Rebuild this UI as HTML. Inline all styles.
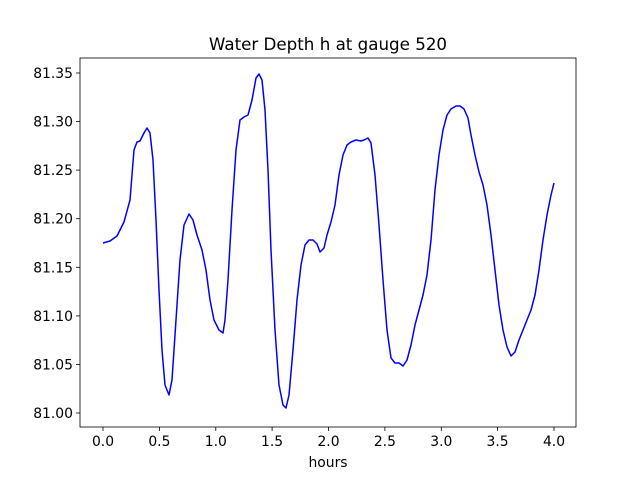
<!DOCTYPE html>
<html><head><meta charset="utf-8"><style>
html,body{margin:0;padding:0;background:#fff;}
svg{display:block;}
text{font-family:"DejaVu Sans","Liberation Sans",sans-serif;font-size:13.9px;fill:#000;}
</style></head><body>
<svg width="640" height="480" viewBox="0 0 640 480">
<rect x="0" y="0" width="640" height="480" fill="#fff"/>
<text x="328" y="50" text-anchor="middle" style="font-size:16.7px">Water Depth h at gauge 520</text>
<polyline fill="none" stroke="#0000ff" stroke-width="1.5" stroke-linejoin="round" points="103,243 110,241 117,236 124,222 130,200 134,150 137,142 140,141 144,133 147,128 150,133 153,160 156,220 159,290 162,350 165,385 169,395 172,380 176,320 180,260 184,225 189,214 193,220 197,235 202,250 206,270 210,300 214,320 219,330 223,333 225,320 228,280 232,210 236,150 240,120 244,117 248,115 252,100 256,78 259,74 262,80 265,110 268,170 271,250 275,330 279,385 283,405 286,408 289,395 293,350 297,300 301,265 305,245 309,240 313,240 317,244 320,252 324,248 327,235 331,222 335,205 339,175 343,155 347,145 351,142 356,140 361,141 364,140 368,138 371,143 375,175 379,225 383,280 387,330 391,358 395,363 399,363 403,366 407,360 411,345 415,325 419,310 423,295 427,275 431,240 435,190 439,155 443,130 447,115 451,109 456,106 460,106 464,109 468,118 471,135 475,155 479,172 483,185 487,205 491,235 495,270 499,305 503,330 507,347 511,356 515,352 519,340 523,330 527,320 531,310 535,295 539,270 543,240 547,215 551,195 554,183"/>
<rect x="80" y="58" width="496" height="369" fill="none" stroke="#000" stroke-width="0.8"/>
<g stroke="#000" stroke-width="0.8">
<line x1="103" y1="427" x2="103" y2="431"/><line x1="159.4" y1="427" x2="159.4" y2="431"/><line x1="215.8" y1="427" x2="215.8" y2="431"/><line x1="272.1" y1="427" x2="272.1" y2="431"/><line x1="328.5" y1="427" x2="328.5" y2="431"/><line x1="384.9" y1="427" x2="384.9" y2="431"/><line x1="441.3" y1="427" x2="441.3" y2="431"/><line x1="497.6" y1="427" x2="497.6" y2="431"/><line x1="554" y1="427" x2="554" y2="431"/>
<line x1="76" y1="413" x2="80" y2="413"/><line x1="76" y1="364.4" x2="80" y2="364.4"/><line x1="76" y1="315.9" x2="80" y2="315.9"/><line x1="76" y1="267.3" x2="80" y2="267.3"/><line x1="76" y1="218.7" x2="80" y2="218.7"/><line x1="76" y1="170.1" x2="80" y2="170.1"/><line x1="76" y1="121.6" x2="80" y2="121.6"/><line x1="76" y1="73" x2="80" y2="73"/>
</g>
<g text-anchor="middle">
<text x="103" y="446">0.0</text><text x="159.4" y="446">0.5</text><text x="215.8" y="446">1.0</text><text x="272.1" y="446">1.5</text><text x="328.5" y="446">2.0</text><text x="384.9" y="446">2.5</text><text x="441.3" y="446">3.0</text><text x="497.6" y="446">3.5</text><text x="554" y="446">4.0</text>
<text x="328" y="467">hours</text>
</g>
<g text-anchor="end">
<text x="73" y="418">81.00</text><text x="73" y="369.4">81.05</text><text x="73" y="320.9">81.10</text><text x="73" y="272.3">81.15</text><text x="73" y="223.7">81.20</text><text x="73" y="175.1">81.25</text><text x="73" y="126.6">81.30</text><text x="73" y="78">81.35</text>
</g>
</svg>
</body></html>
